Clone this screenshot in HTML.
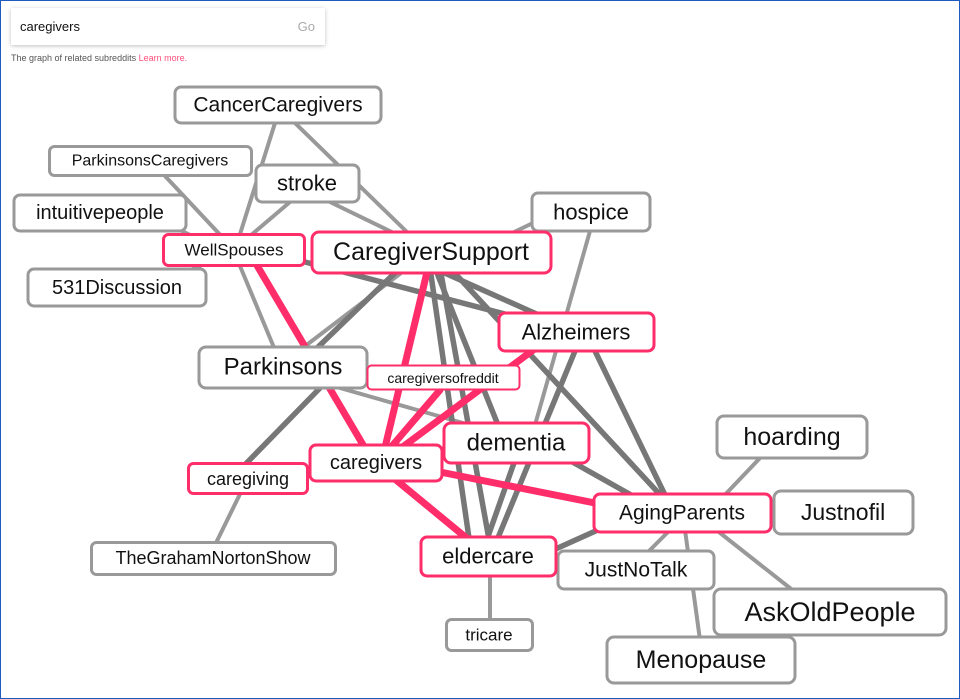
<!DOCTYPE html>
<html><head><meta charset="utf-8"><style>
html,body{margin:0;padding:0;background:#fff;}
body{width:960px;height:699px;position:relative;overflow:hidden;font-family:"Liberation Sans",sans-serif;}
.frame{position:absolute;left:0;top:0;width:958px;height:697px;border:1px solid #1d5bbf;}
.search{position:absolute;left:11px;top:8px;width:314px;height:37px;background:#fff;box-shadow:0 1px 4px rgba(0,0,0,.25);}
.search .q{position:absolute;left:9px;top:11px;font-size:13px;color:#111;}
.search .go{position:absolute;right:10px;top:11px;font-size:13px;color:#aaa;}
.cap{position:absolute;left:11px;top:53px;font-size:9px;color:#555;}
.cap span{color:#ff4f7b;}
svg{position:absolute;left:0;top:0;}
text{font-family:"Liberation Sans",sans-serif;fill:#111;text-anchor:middle;dominant-baseline:central;}
</style></head><body>
<div class="frame"></div>
<svg width="960" height="699">
<g stroke-linecap="round">
<!-- light gray -->
<g stroke="#999" stroke-width="4">
<line x1="275" y1="123" x2="235" y2="250"/>
<line x1="295" y1="123" x2="410" y2="235"/>
<line x1="165" y1="176" x2="225" y2="240"/>
<line x1="290" y1="202" x2="250" y2="236"/>
<line x1="330" y1="202" x2="400" y2="236"/>
<line x1="180" y1="230" x2="200" y2="240"/>
<line x1="160" y1="283" x2="200" y2="266"/>
<line x1="535" y1="222" x2="510" y2="234"/>
<line x1="590" y1="231" x2="535" y2="425"/>
<line x1="300" y1="350" x2="405" y2="270"/>
<line x1="240" y1="266" x2="275" y2="350"/>
<line x1="340" y1="388" x2="470" y2="425"/>
<line x1="240" y1="494" x2="215" y2="545"/>
<line x1="760" y1="458" x2="720" y2="500"/>
<line x1="710" y1="525" x2="795" y2="592"/>
<line x1="685" y1="530" x2="700" y2="640"/>
<line x1="670" y1="530" x2="645" y2="555"/>
<line x1="490" y1="576" x2="490" y2="620"/>
</g>
<!-- dark gray -->
<g stroke="#777" stroke-width="5.5">
<line x1="305" y1="262" x2="520" y2="318"/>
<line x1="420" y1="262" x2="550" y2="320"/>
<line x1="435" y1="268" x2="500" y2="430"/>
<line x1="440" y1="268" x2="490" y2="545"/>
<line x1="430" y1="268" x2="470" y2="545"/>
<line x1="450" y1="268" x2="665" y2="500"/>
<line x1="400" y1="268" x2="315" y2="350"/>
<line x1="595" y1="351" x2="665" y2="495"/>
<line x1="575" y1="351" x2="495" y2="545"/>
<line x1="560" y1="455" x2="640" y2="500"/>
<line x1="515" y1="460" x2="485" y2="545"/>
<line x1="540" y1="556" x2="620" y2="520"/>
<line x1="320" y1="388" x2="230" y2="480"/>
</g>
<!-- pink -->
<g stroke="#ff2e6a" stroke-width="7">
<line x1="255" y1="262" x2="372" y2="460"/>
<line x1="428" y1="268" x2="382" y2="460"/>
<line x1="440" y1="390" x2="380" y2="460"/>
<line x1="540" y1="345" x2="385" y2="460"/>
<line x1="470" y1="445" x2="390" y2="460"/>
<line x1="430" y1="470" x2="620" y2="508"/>
<line x1="390" y1="475" x2="475" y2="545"/>
</g>
</g>
<g stroke-width="3" fill="#fff">
<g stroke="#999">
<rect x="175" y="87" width="206" height="36" rx="6"/>
<rect x="49.5" y="146.5" width="202" height="29" rx="5"/>
<rect x="256" y="165" width="103" height="37" rx="6"/>
<rect x="14" y="195" width="172" height="36" rx="6"/>
<rect x="532" y="193" width="118" height="38" rx="6"/>
<rect x="28" y="269" width="178" height="37" rx="6"/>
<rect x="199" y="347" width="168" height="41" rx="7"/>
<rect x="717" y="416" width="150" height="42" rx="7"/>
<rect x="774" y="491" width="139" height="43" rx="7"/>
<rect x="91.5" y="542.5" width="244" height="32" rx="5"/>
<rect x="558" y="551" width="156" height="38" rx="6"/>
<rect x="714" y="589" width="232" height="46" rx="7"/>
<rect x="446.5" y="619.5" width="86" height="31" rx="5"/>
<rect x="607" y="637" width="188" height="46" rx="7"/>
</g>
<g stroke="#ff2e6a">
<rect x="163.5" y="234.5" width="141" height="31" rx="5"/>
<rect x="312" y="232" width="239" height="41" rx="7"/>
<rect x="499" y="313" width="155" height="38" rx="6"/>
<rect x="367.5" y="365.5" width="152" height="24" rx="4" stroke-width="2"/>
<rect x="444" y="423" width="145" height="40" rx="7"/>
<rect x="310" y="445" width="132" height="36" rx="6"/>
<rect x="188.5" y="463.5" width="119" height="30" rx="5"/>
<rect x="594" y="494" width="177" height="38" rx="6"/>
<rect x="421" y="537" width="135" height="39" rx="6"/>
</g>
</g>
<text x="278" y="105" font-size="21">CancerCaregivers</text>
<text x="150" y="161" font-size="16">ParkinsonsCaregivers</text>
<text x="307" y="183" font-size="22">stroke</text>
<text x="100" y="213" font-size="20">intuitivepeople</text>
<text x="591" y="212" font-size="22">hospice</text>
<text x="234" y="250" font-size="17">WellSpouses</text>
<text x="431" y="252" font-size="25">CaregiverSupport</text>
<text x="117" y="288" font-size="20">531Discussion</text>
<text x="576" y="332" font-size="22">Alzheimers</text>
<text x="283" y="367" font-size="24">Parkinsons</text>
<text x="443" y="378" font-size="14">caregiversofreddit</text>
<text x="516" y="443" font-size="24">dementia</text>
<text x="792" y="437" font-size="25">hoarding</text>
<text x="376" y="463" font-size="20">caregivers</text>
<text x="248" y="479" font-size="18">caregiving</text>
<text x="682" y="513" font-size="21">AgingParents</text>
<text x="843" y="512" font-size="23">Justnofil</text>
<text x="213" y="558" font-size="18">TheGrahamNortonShow</text>
<text x="488" y="556" font-size="22">eldercare</text>
<text x="636" y="570" font-size="21">JustNoTalk</text>
<text x="830" y="612" font-size="27">AskOldPeople</text>
<text x="489" y="635" font-size="17">tricare</text>
<text x="701" y="660" font-size="25">Menopause</text>
</svg>
<div class="search"><div class="q">caregivers</div><div class="go">Go</div></div>
<div class="cap">The graph of related subreddits <span>Learn more.</span></div>
</body></html>
